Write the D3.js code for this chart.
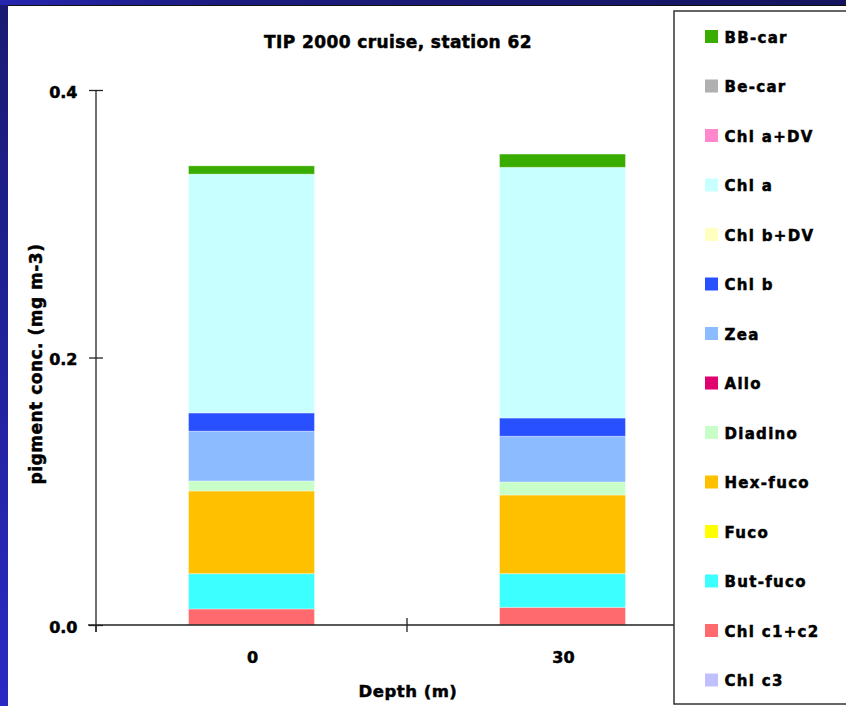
<!DOCTYPE html>
<html>
<head>
<meta charset="utf-8">
<script src="https://cdn.jsdelivr.net/npm/d3@7"></script>
<style>
  html, body { margin: 0; padding: 0; background: #fff; }
  svg { display: block; }
  text { font-family: "DejaVu Sans", Verdana, sans-serif; font-weight: bold; fill: #000; stroke: #000; stroke-width: 0.5px; }
</style>
</head>
<body>
<script>
// ---- data ----
const categories = ["0", "30"];
// pigment names, bottom of stack first
const pigments = ["Chl c3", "Chl c1+c2", "But-fuco", "Fuco", "Hex-fuco", "Diadino", "Allo",
                  "Zea", "Chl b", "Chl b+DV", "Chl a", "Chl a+DV", "Be-car", "BB-car"];
const pigmentColors = ["#c0c0ff", "#ff6a6e", "#3cffff", "#ffff00", "#ffc000", "#c8ffc8", "#e0006e",
                       "#8cbcff", "#2850ff", "#ffffc0", "#c8ffff", "#ff88cc", "#b0b0b0", "#38ad00"];
const chlC3    = [0, 0];
const chlC1C2  = [0.0120, 0.0132];
const butFuco  = [0.0264, 0.0252];
const fuco     = [0, 0];
const hexFuco  = [0.0618, 0.0588];
const diadino  = [0.0075, 0.0097];
const allo     = [0, 0];
const zea      = [0.0372, 0.0342];
const chlB     = [0.0137, 0.0137];
const chlBDV   = [0, 0];
const chlA     = [0.1785, 0.1874];
const chlADV   = [0, 0];
const beCar    = [0, 0];
const bbCar    = [0.0062, 0.0099];
const yTicks = [0.0, 0.2, 0.4];
const titleText = "TIP 2000 cruise, station 62";
const xTitle = "Depth (m)";
const yTitle = "pigment conc. (mg m-3)";

const seriesValues = [chlC3, chlC1C2, butFuco, fuco, hexFuco, diadino, allo,
                      zea, chlB, chlBDV, chlA, chlADV, beCar, bbCar];
const table = categories.map((c, i) => {
  const row = { cat: c };
  pigments.forEach((p, j) => row[p] = seriesValues[j][i]);
  return row;
});

// ---- layout ----
const W = 846, H = 706;
const svg = d3.select("body").append("svg").attr("width", W).attr("height", H);

const defs = svg.append("defs");
const gl = defs.append("linearGradient").attr("id", "leftGrad").attr("x1", 0).attr("y1", 0).attr("x2", 0).attr("y2", 1);
gl.append("stop").attr("offset", "0%").attr("stop-color", "#1a1a72");
gl.append("stop").attr("offset", "100%").attr("stop-color", "#2a2ac4");
const gt = defs.append("linearGradient").attr("id", "topGrad").attr("x1", 0).attr("y1", 0).attr("x2", 1).attr("y2", 0);
gt.append("stop").attr("offset", "0%").attr("stop-color", "#2626b0");
gt.append("stop").attr("offset", "25%").attr("stop-color", "#1c1c80");
gt.append("stop").attr("offset", "100%").attr("stop-color", "#14145e");

// frame
svg.append("rect").attr("x", 0).attr("y", 0).attr("width", W).attr("height", H).attr("fill", "#fff");
svg.append("rect").attr("x", 0).attr("y", 0).attr("width", 8).attr("height", H).attr("fill", "url(#leftGrad)");
svg.append("rect").attr("x", 0).attr("y", 0).attr("width", W).attr("height", 5).attr("fill", "url(#topGrad)");
svg.append("line").attr("x1", 8).attr("x2", W).attr("y1", 5.5).attr("y2", 5.5).attr("stroke", "#111").attr("stroke-width", 1);

// scales
const y = d3.scaleLinear().domain([0, 0.4]).range([625, 90]);
const xAxisBand = d3.scaleBand().domain(categories).range([96, 718]).padding(0);
const xBar = d3.scaleBand().domain(categories).range([96, 718]).paddingInner(0.595).paddingOuter(0.2975);
const color = d3.scaleOrdinal().domain(pigments).range(pigmentColors);

// bars
const stacked = d3.stack().keys(pigments)(table);
const gBars = svg.append("g");
stacked.forEach(layer => {
  gBars.selectAll(null).data(layer.filter(d => d[1] - d[0] > 0)).enter().append("rect")
    .attr("x", d => xBar(d.data.cat))
    .attr("width", xBar.bandwidth())
    .attr("y", d => y(d[1]))
    .attr("height", d => y(d[0]) - y(d[1]))
    .attr("fill", color(layer.key))
    .attr("stroke", "rgba(255,255,255,0.35)")
    .attr("stroke-width", 1);
});

// y axis
const yAxis = d3.axisLeft(y).tickValues(yTicks).tickFormat(d3.format(".1f")).tickSize(7).tickPadding(11.5);
const gy = svg.append("g").attr("transform", "translate(96,0)").call(yAxis);
gy.select(".domain").remove();
gy.selectAll(".tick line").attr("x1", 7).attr("stroke", "#222").attr("stroke-width", 1.3);
gy.selectAll(".tick text").attr("font-size", 16).attr("font-family", "DejaVu Sans").attr("font-weight", "bold").attr("dy", "0.44em").attr("fill", "#000");
svg.append("line").attr("x1", 96).attr("x2", 96).attr("y1", y(0.4)).attr("y2", 632).attr("stroke", "#222").attr("stroke-width", 1.3);

// x axis
svg.append("line").attr("x1", 88).attr("x2", 718).attr("y1", y(0)).attr("y2", y(0)).attr("stroke", "#222").attr("stroke-width", 1.3);
const bounds = categories.map(c => xAxisBand(c)).concat([xAxisBand.range()[1]]);
svg.selectAll(null).data(bounds).enter().append("line")
  .attr("x1", d => d).attr("x2", d => d)
  .attr("y1", (d, i) => i === 0 ? y(0) : y(0) - 7).attr("y2", y(0) + 7)
  .attr("stroke", "#222").attr("stroke-width", 1.3);
svg.selectAll(null).data(categories).enter().append("text")
  .attr("x", d => xAxisBand(d) + xAxisBand.bandwidth() / 2 + 1)
  .attr("y", 662.5)
  .attr("text-anchor", "middle")
  .attr("font-size", 16)
  .text(d => d);

// titles
svg.append("text").attr("x", 398).attr("y", 47.5).attr("text-anchor", "middle")
  .attr("font-size", 17).attr("letter-spacing", 0.4).text(titleText);
svg.append("text").attr("x", 408).attr("y", 697).attr("text-anchor", "middle")
  .attr("font-size", 16.5).attr("letter-spacing", 0.5).text(xTitle);
svg.append("text").attr("transform", "translate(41.5,364) rotate(-90)").attr("text-anchor", "middle")
  .attr("font-size", 17).attr("letter-spacing", 0.5).text(yTitle);

// legend
svg.append("rect").attr("x", 674).attr("y", 11).attr("width", 190).attr("height", 693)
  .attr("fill", "#fff").attr("stroke", "#333").attr("stroke-width", 1.5);
const legendOrder = pigments.slice().reverse();
const ly = d3.scalePoint().domain(legendOrder).range([36.5, 680]);
const lg = svg.append("g").selectAll("g").data(legendOrder).enter().append("g")
  .attr("transform", d => `translate(705,${ly(d)})`);
lg.append("rect").attr("x", 0).attr("y", -6.5).attr("width", 13).attr("height", 13).attr("fill", d => color(d));
lg.append("text").attr("x", 19.5).attr("y", 6).attr("font-size", 15).attr("letter-spacing", 1.3).text(d => d);
</script>
</body>
</html>
